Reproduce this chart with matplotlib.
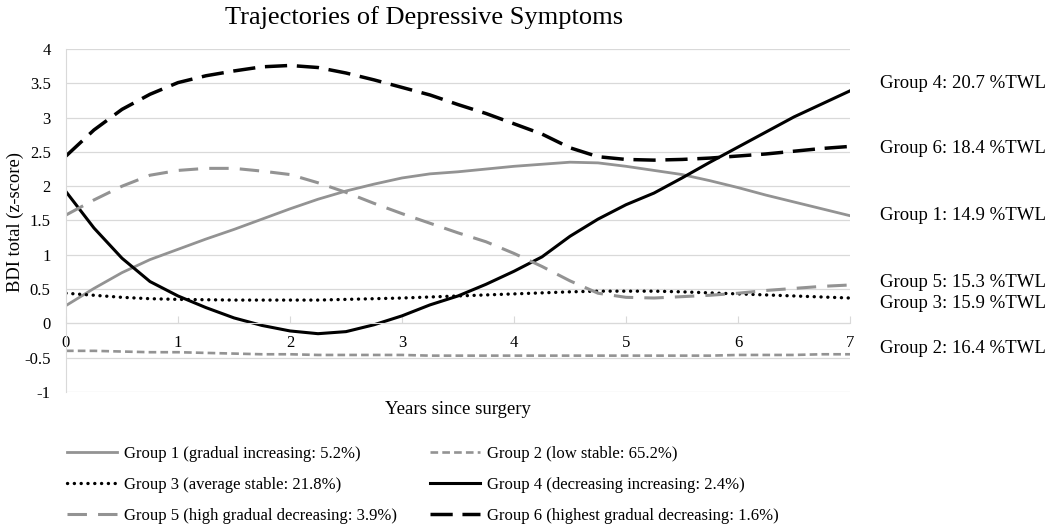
import matplotlib
matplotlib.use("Agg")
import matplotlib.pyplot as plt

plt.rcParams["font.family"] = ["Liberation Serif", "DejaVu Serif"]
plt.rcParams["lines.scale_dashes"] = False

years = [0, 0.25, 0.5, 0.75, 1, 1.25, 1.5, 1.75, 2, 2.25, 2.5, 2.75, 3, 3.25, 3.5,
         3.75, 4, 4.25, 4.5, 4.75, 5, 5.25, 5.5, 5.75, 6, 6.25, 6.5, 6.75, 7]

group1 = [0.26, 0.51, 0.74, 0.93, 1.08, 1.23, 1.37, 1.52, 1.67, 1.81, 1.93, 2.03, 2.12, 2.18, 2.21,
          2.25, 2.29, 2.32, 2.35, 2.34, 2.29, 2.23, 2.17, 2.08, 1.98, 1.87, 1.77, 1.67, 1.57]
group2 = [-0.40, -0.40, -0.41, -0.42, -0.42, -0.43, -0.44, -0.45, -0.45, -0.46, -0.46, -0.46, -0.46, -0.47, -0.47,
          -0.47, -0.47, -0.47, -0.47, -0.47, -0.47, -0.47, -0.47, -0.47, -0.46, -0.46, -0.46, -0.45, -0.45]
group3 = [0.44, 0.41, 0.38, 0.36, 0.35, 0.345, 0.34, 0.34, 0.34, 0.34, 0.35, 0.36, 0.37, 0.385, 0.40,
          0.415, 0.43, 0.445, 0.46, 0.47, 0.47, 0.47, 0.46, 0.445, 0.43, 0.415, 0.40, 0.385, 0.37]
group4 = [1.92, 1.39, 0.95, 0.61, 0.40, 0.23, 0.08, -0.03, -0.11, -0.15, -0.12, -0.02, 0.11, 0.27, 0.40,
          0.57, 0.76, 0.97, 1.27, 1.52, 1.73, 1.90, 2.12, 2.35, 2.57, 2.79, 3.01, 3.20, 3.39]
group5 = [1.58, 1.80, 2.00, 2.16, 2.23, 2.26, 2.26, 2.22, 2.17, 2.05, 1.91, 1.75, 1.60, 1.46, 1.32,
          1.19, 1.02, 0.83, 0.62, 0.44, 0.38, 0.37, 0.39, 0.41, 0.44, 0.48, 0.51, 0.54, 0.56]
group6 = [2.44, 2.82, 3.12, 3.34, 3.51, 3.61, 3.68, 3.74, 3.76, 3.73, 3.65, 3.55, 3.44, 3.33, 3.19,
          3.06, 2.91, 2.76, 2.56, 2.43, 2.39, 2.38, 2.39, 2.41, 2.44, 2.47, 2.51, 2.55, 2.58]

legend_labels = [
    "Group 1 (gradual increasing: 5.2%)",
    "Group 2 (low stable: 65.2%)",
    "Group 3 (average stable: 21.8%)",
    "Group 4 (decreasing increasing: 2.4%)",
    "Group 5 (high gradual decreasing: 3.9%)",
    "Group 6 (highest gradual decreasing: 1.6%)",
]

twl_labels = ["Group 4: 20.7 %TWL", "Group 6: 18.4 %TWL", "Group 1: 14.9 %TWL",
              "Group 5: 15.3 %TWL", "Group 3: 15.9 %TWL", "Group 2: 16.4 %TWL"]
twl_y = [3.50, 2.55, 1.57, 0.60, 0.29, -0.36]

gray = "#939393"
grid_color = "#d9d9d9"

fig = plt.figure(figsize=(10.5, 5.27), dpi=100)
ax = fig.add_axes([66 / 1050, 1 - 392 / 527, 784 / 1050, 343 / 527])

l1, = ax.plot(years, group1, color=gray, lw=2.0)
l2, = ax.plot(years, group2, color=gray, lw=1.9, linestyle=(0, (5.5, 3)))
l3, = ax.plot(years, group3, color="black", lw=2.4, linestyle=(0, (0.1, 4.8)),
              dash_capstyle="round")
l4, = ax.plot(years, group4, color="black", lw=2.2)
l5, = ax.plot(years, group5, color=gray, lw=2.2, linestyle=(0, (14, 8)))
l6, = ax.plot(years, group6, color="black", lw=2.5, linestyle=(0, (16, 7)))
lines = [l1, l2, l3, l4, l5, l6]

ax.set_xlim(0, 7)
ax.set_ylim(-1, 4)
ax.set_yticks([-1, -0.5, 0, 0.5, 1, 1.5, 2, 2.5, 3, 3.5, 4])
ax.set_yticklabels(["-1", "-0.5", "0", "0.5", "1", "1.5", "2", "2.5", "3", "3.5", "4"])
ax.set_xticks(range(8))
ax.grid(axis="y", color=grid_color, lw=0.9)
ax.set_axisbelow(True)

for side in ["top", "right"]:
    ax.spines[side].set_visible(False)
ax.spines["left"].set_color(grid_color)
ax.spines["bottom"].set_color(grid_color)
ax.spines["bottom"].set_position(("data", 0))
ax.tick_params(axis="y", length=0, pad=11, labelsize=12)
ax.tick_params(axis="x", direction="in", length=5, color=grid_color, pad=8, labelsize=12)

for label, y in zip(twl_labels, twl_y):
    ax.text(7.27, y, label, fontsize=13.5, va="center", ha="left", clip_on=False)

fig.text(424 / 1050, 1 - 18 / 527, "Trajectories of Depressive Symptoms",
         fontsize=19, ha="center", va="center")
fig.text(458 / 1050, 1 - 410 / 527, "Years since surgery", fontsize=13.5,
         ha="center", va="center")
fig.text(15 / 1050, 1 - 222 / 527, "BDI total (z-score)", fontsize=13.3,
         ha="center", va="center", rotation=90)

# legend fills column-wise, so reorder to get rows 1-2, 3-4, 5-6
order = [0, 2, 4, 1, 3, 5]
fig.legend([lines[i] for i in order], [legend_labels[i] for i in order], ncol=2,
           loc="upper left", bbox_to_anchor=(67 / 1050, 1 - 446 / 527), frameon=False,
           fontsize=12, handlelength=3.0, handletextpad=0.4, columnspacing=2.0,
           labelspacing=0.9, borderpad=0, borderaxespad=0)

fig.savefig("out.png", dpi=100)
